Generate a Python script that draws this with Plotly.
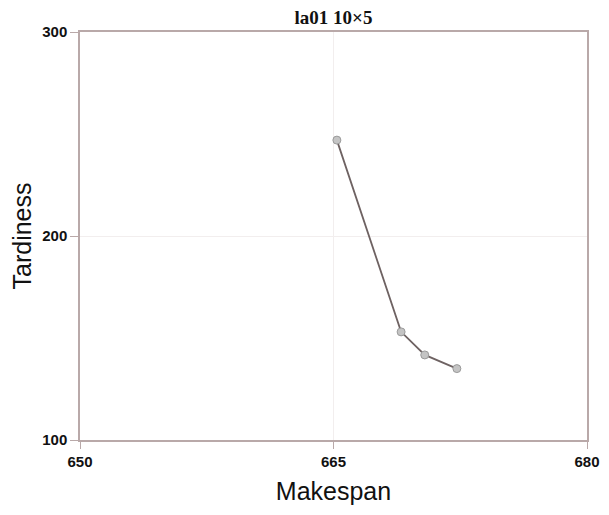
import plotly.graph_objects as go

makespan = [665.2, 669.0, 670.4, 672.3]
tardiness = [247, 153, 141.7, 135]

x_ticks = [650, 665, 680]
y_ticks = [100, 200, 300]

axis_color = "#b9a9a9"

fig = go.Figure()
fig.add_trace(go.Scatter(
    x=makespan, y=tardiness, mode="lines+markers",
    line=dict(color="#6e6262", width=1.8),
    marker=dict(symbol="circle", size=8, color="#c4c4c4",
                line=dict(color="#9a9a9a", width=1)),
    showlegend=False,
))

fig.update_layout(
    width=593, height=499,
    margin=dict(l=72, r=14, t=24, b=67),
    paper_bgcolor="white", plot_bgcolor="white",
    title=dict(text="<b>la01 10×5</b>", x=0.5, xanchor="center", xref="paper",
               y=0.982, yanchor="middle",
               font=dict(family="Liberation Serif", size=19, color="#111")),
)
fig.update_xaxes(
    range=[650, 680], tickvals=x_ticks, ticktext=["<b>%d</b>" % v for v in x_ticks],
    showline=True, linecolor=axis_color, linewidth=1.5, mirror=True,
    ticks="outside", ticklen=7, tickcolor=axis_color,
    showgrid=True, gridcolor="#f2eeee", gridwidth=1, zeroline=False,
    tickfont=dict(family="Liberation Sans", size=15, color="#111"),
    automargin=False,
    title=dict(text="Makespan", font=dict(family="Liberation Sans", size=25, color="#111"), standoff=14),
)
fig.update_yaxes(
    range=[100, 300], tickvals=y_ticks, ticktext=["<b>%d</b>" % v for v in y_ticks],
    showline=True, linecolor=axis_color, linewidth=1.5, mirror=True,
    ticks="outside", ticklen=8, tickcolor=axis_color,
    showgrid=True, gridcolor="#f2eeee", gridwidth=1, zeroline=False,
    tickfont=dict(family="Liberation Sans", size=15, color="#111"),
    automargin=False,
    title=dict(text="Tardiness", font=dict(family="Liberation Sans", size=25, color="#111"), standoff=8),
)

fig.write_html("out.html")
